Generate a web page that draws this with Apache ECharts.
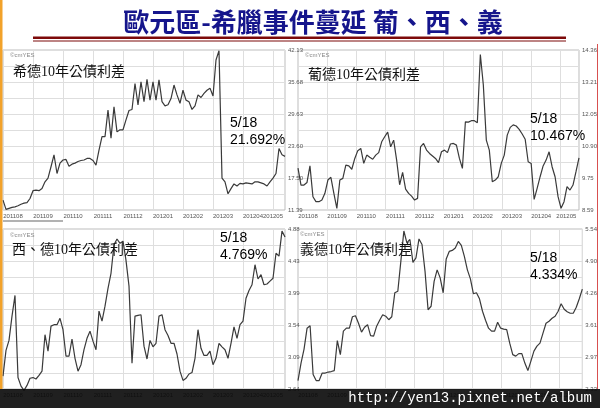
<!DOCTYPE html>
<html><head><meta charset="utf-8">
<script src="https://cdn.jsdelivr.net/npm/echarts@6/dist/echarts.min.js"></script>
<style>html,body{margin:0;padding:0;background:#fff;}#c{width:600px;height:408px;}</style>
</head><body><div id="c"></div>
<script>
const months = ['201108','201109','201110','201111','201112','201201','201202','201203','201204','201205'];
const greeceTicks = ['11.39','17.50','23.60','29.63','35.68','42.13'];
const portugalTicks = ['8.59','9.75','10.90','12.05','13.21','14.36'];
const spainTicks = ['2.64','3.09','3.54','3.99','4.43','4.88'];
const italyTicks = ['2.33','2.97','3.61','4.26','4.90','5.54'];
const greece = [13.3,11.5,11.7,11.9,12.0,12.2,12.5,12.7,12.8,13.6,15.1,15.2,15.1,15.5,16.8,17.5,19.7,22.0,18.4,20.4,
21.0,21.1,19.8,20.2,20.4,20.7,20.9,21.0,21.3,21.3,20.9,20.0,22.9,25.5,25.5,30.6,25.2,31.2,26.4,26.8,
26.8,28.7,30.5,30.7,35.7,31.6,36.0,32.2,36.5,32.5,36.0,32.5,36.4,32.2,31.4,31.6,32.8,35.4,33.5,31.9,
34.4,32.5,32.2,30.7,31.4,33.5,33.0,33.8,34.4,34.8,33.3,40.2,42.0,17.5,16.8,14.5,15.5,16.4,16.0,16.5,
16.4,16.6,16.5,16.4,16.8,16.8,16.6,16.4,16.0,16.8,17.5,18.4,23.2,22.0,21.69];
const portugal = [10.1,9.49,9.49,9.58,10.18,9.07,8.89,8.89,8.95,9.19,9.67,9.77,9.19,8.65,9.67,9.73,10.21,10.18,10.06,10.45,
10.73,10.81,10.27,10.57,10.49,10.42,10.57,10.66,11.05,11.23,11.40,10.87,11.11,10.39,9.5,9.95,9.34,9.19,9.09,8.95,
9.01,10.87,10.99,10.75,10.63,10.54,10.45,10.30,10.69,10.75,10.66,10.97,10.99,10.93,10.45,10.09,11.77,11.76,11.81,11.81,
11.74,14.2,13.1,11.11,10.75,9.61,9.67,9.79,10.27,10.57,11.29,11.57,11.66,11.62,11.50,11.33,11.14,10.33,10.27,8.97,
9.37,9.79,10.18,10.39,10.69,10.15,9.79,9.07,8.65,8.89,9.43,9.31,9.49,9.97,10.467];
const spain = [2.82,3.18,3.32,3.66,3.95,2.80,2.68,2.62,2.69,2.79,2.80,2.78,2.83,2.89,3.40,3.17,3.52,3.54,3.54,3.63,
3.47,3.10,3.10,3.34,3.07,2.89,2.98,3.19,3.35,3.45,3.31,3.19,3.73,3.59,3.80,4.05,4.26,4.66,4.74,4.68,
4.71,4.44,4.08,3.00,3.66,3.67,3.68,3.24,3.06,3.32,3.23,3.28,3.66,3.68,3.47,3.39,3.28,3.28,3.13,2.89,
2.76,2.79,2.85,2.87,3.07,3.47,3.21,3.11,3.11,3.17,2.98,3.07,3.28,3.23,3.19,3.07,3.28,3.51,3.35,3.54,
3.59,3.91,4.02,4.10,4.38,4.18,4.24,4.10,4.11,4.15,4.19,4.54,4.50,4.85,4.769];
const italy = [2.50,2.85,3.13,3.55,3.60,2.62,2.50,2.50,2.65,2.65,2.67,2.68,2.70,3.30,3.02,3.49,3.55,3.55,3.78,3.80,
3.65,3.47,3.57,3.62,3.40,3.39,3.59,3.71,3.82,3.79,3.72,3.78,4.26,4.29,4.89,5.50,5.26,5.33,4.87,4.96,
5.34,5.23,4.69,3.92,3.99,4.49,4.72,4.56,4.26,4.94,5.09,5.11,5.16,5.29,5.21,4.99,4.72,4.54,4.24,4.26,
4.14,3.89,3.71,3.55,3.49,3.49,3.67,3.55,3.53,3.52,3.25,3.02,2.99,3.04,3.04,2.85,2.70,2.89,3.09,3.19,
3.25,3.45,3.65,3.69,3.75,3.79,3.89,4.04,3.93,3.88,3.85,3.85,3.97,4.14,4.334];

const panels = [
  {name:'希德10年公債利差', vals:greece, ticks:greeceTicks, note:'21.692%', grid:{left:3,top:50,width:282,height:160}, iv:10, lastPad:0,
   tx:13, ty:72, nx:230, ny:123, wx:10, wy:55},
  {name:'葡德10年公債利差', vals:portugal, ticks:portugalTicks, note:'10.467%', grid:{left:298,top:50,width:285,height:160}, iv:9.75, lastPad:12,
   tx:308, ty:75, nx:530, ny:119, wx:305, wy:55},
  {name:'西、德10年公債利差', vals:spain, ticks:spainTicks, note:'4.769%', grid:{left:3,top:229,width:282,height:160}, iv:10, lastPad:0,
   tx:12, ty:250, nx:220, ny:238, wx:10, wy:235},
  {name:'義德10年公債利差', vals:italy, ticks:italyTicks, note:'4.334%', grid:{left:298,top:229,width:285,height:160}, iv:9.6, lastPad:12,
   tx:300, ty:250, nx:530, ny:258, wx:300, wy:234}
];

const GRID = '#dedede';
const grids = [], xAxes = [], yAxes = [], series = [], graphics = [];
function text(x, y, t, size, family, color, extra) {
  return Object.assign({type:'text', x:x, y:y, z:100, style:{text:t, fontSize:size, fontFamily:family, fill:color,
    textAlign:'left', textVerticalAlign:'middle', align:'left', verticalAlign:'middle'}}, extra || {});
}
panels.forEach((p, gi) => {
  const N = p.vals.length;
  grids.push(Object.assign({show:true, borderColor:'#bdbdbd', borderWidth:1, backgroundColor:'#fff', containLabel:false}, p.grid));
  const iv = p.iv, lastPad = p.lastPad;
  xAxes.push({type:'value', gridIndex:gi, min:0, max:N-1, interval:iv,
    axisLine:{show:false}, axisTick:{show:false},
    splitLine:{show:true, lineStyle:{color:GRID, width:1}},
    axisLabel:{show:true, showMaxLabel:false, margin:3, fontSize:6, color:'#555', fontFamily:'Liberation Sans',
      formatter: v => { const k = Math.round(v/iv); if (k >= months.length) return '';
        return (k === months.length-1 ? '{e|' : '{m|') + months[k] + '}'; },
      rich:{m:{padding:[0,0,0,20], fontSize:6, color:'#555', fontFamily:'Liberation Sans'},
            e:{padding:[0,0,0,lastPad], fontSize:6, color:'#555', fontFamily:'Liberation Sans'}}}});
  const cat = [];
  p.ticks.forEach((t, i) => { cat.push(t); if (i < p.ticks.length-1) cat.push(''); });
  yAxes.push({type:'value', gridIndex:gi, show:false, min:Number(p.ticks[0]), max:Number(p.ticks[p.ticks.length-1])});
  yAxes.push({type:'category', gridIndex:gi, position:'right', boundaryGap:false, data:cat,
    axisLine:{show:false}, axisTick:{show:false},
    axisLabel:{interval:0, margin:3, fontSize:6, color:'#555', fontFamily:'Liberation Sans'},
    splitLine:{show:true, interval:0, lineStyle:{color:GRID, width:1}}});
  series.push({type:'line', xAxisIndex:gi, yAxisIndex:gi*2, data:p.vals.map((v,i)=>[i,v]),
    showSymbol:false, symbol:'none', clip:false, animation:false,
    lineStyle:{color:'#3a3a3a', width:1.2}, z:5});
  graphics.push(text(p.tx, p.ty, p.name, 14, "'Liberation Serif','Noto Sans CJK TC'", '#111'));
  graphics.push(text(p.wx, p.wy, '©cmYES', 6, 'Liberation Sans', '#888'));
  graphics.push(text(p.nx, p.ny, '5/18', 14, 'Liberation Sans', '#000'));
  graphics.push(text(p.nx, p.ny+17, p.note, 14, 'Liberation Sans', '#000'));
});

graphics.push({type:'rect', z:100, shape:{x:0,y:0,width:2.5,height:389}, style:{fill:'#f2a22a'}});
graphics.push({type:'line', z:100, shape:{x1:597.5,y1:44,x2:597.5,y2:389}, style:{stroke:'#d85050', lineWidth:1}});
graphics.push({type:'rect', z:100, shape:{x:33,y:36.5,width:533,height:2.5}, style:{fill:'#7d0a0a'}});
graphics.push({type:'rect', z:100, shape:{x:33,y:40.5,width:533,height:1}, style:{fill:'#7d0a0a'}});
graphics.push({type:'line', z:100, shape:{x1:3,y1:221,x2:63,y2:221}, style:{stroke:'#999', lineWidth:1.5}});
graphics.push({type:'rect', z:110, shape:{x:0,y:389,width:600,height:19}, style:{fill:'rgba(8,8,8,0.9)'}});
graphics.push(text(592, 398, 'http://yen13.pixnet.net/album', 14, "'Liberation Mono','DejaVu Sans Mono'", '#fff',
  {z:120, style:{text:'http://yen13.pixnet.net/album', fontSize:14, fontFamily:"'Liberation Mono','DejaVu Sans Mono'", fill:'#fff',
   textAlign:'right', textVerticalAlign:'middle', align:'right', verticalAlign:'middle'}}));

const chart = echarts.init(document.getElementById('c'), null, {renderer:'canvas'});
chart.setOption({
  backgroundColor:'#fff',
  animation:false,
  title:{text:'歐元區-希臘事件蔓延 葡、西、義', left:308, top:4, textAlign:'center',
    textStyle:{fontSize:26, color:'#15158c', fontWeight:'bold', fontFamily:"'Noto Sans CJK TC'"}},
  grid:grids, xAxis:xAxes, yAxis:yAxes, series:series,
  graphic:{elements:graphics}
});
</script></body></html>
